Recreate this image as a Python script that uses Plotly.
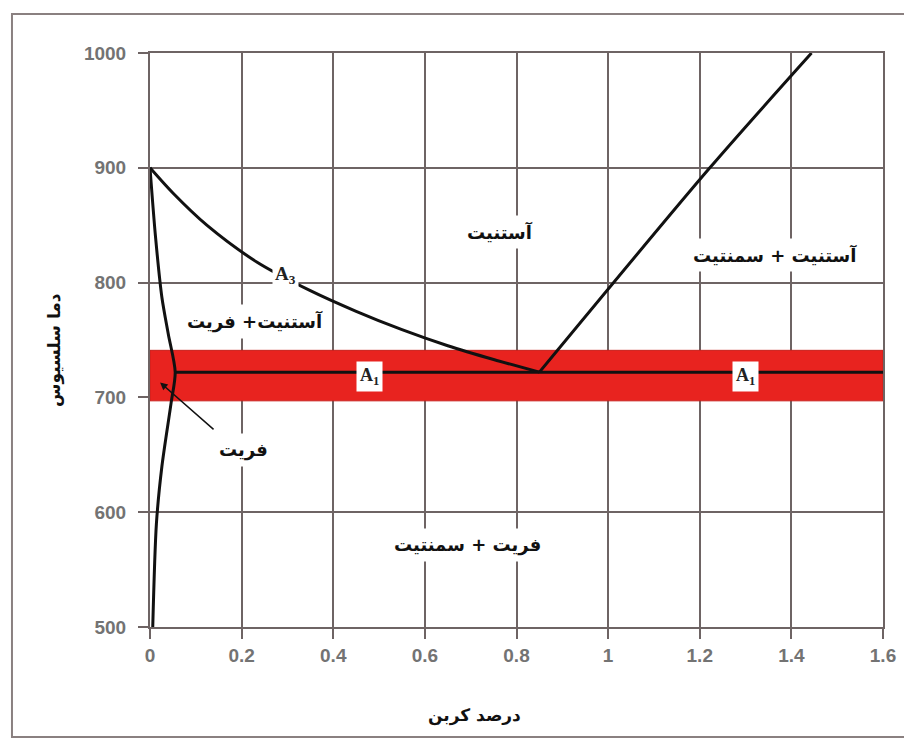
import plotly.graph_objects as go

# ---- data ----
a3_x = [0, 0.05, 0.124, 0.233, 0.35, 0.45, 0.55, 0.65, 0.75, 0.85]
a3_t = [900, 878, 850, 818, 793, 775, 759, 745, 733, 722]

acm_x = [0.85, 1.222, 1.444]
acm_t = [722, 900, 1000]

a1_x = [0.055, 1.6]
a1_t = [722, 722]

ferrite_x = [0, 0.012, 0.026, 0.04, 0.055, 0.046, 0.026, 0.014, 0.006]
ferrite_t = [900, 840, 787, 755, 722, 695, 640, 590, 500]

band_x = [0, 1.6, 1.6, 0, 0]
band_t = [697, 697, 741, 741, 697]

x_ticks = [0, 0.2, 0.4, 0.6, 0.8, 1, 1.2, 1.4, 1.6]
x_tick_labels = ["0", "0.2", "0.4", "0.6", "0.8", "1", "1.2", "1.4", "1.6"]
y_ticks = [500, 600, 700, 800, 900, 1000]
y_tick_labels = ["500", "600", "700", "800", "900", "1000"]

region_labels = ["آستنیت", "آستنیت + سمنتیت", "آستنیت+ فریت", "فریت + سمنتیت"]
region_x = [0.764, 1.364, 0.229, 0.694]
region_t = [844, 824, 766, 571]

grid_col = "#6e6464"
fa_font = "DejaVu Sans"
tick_font = dict(family="Liberation Sans", size=19, color="#737373")

fig = go.Figure()
fig.add_trace(go.Scatter(x=band_x, y=band_t, fill="toself", fillcolor="#e8231f",
                         mode="lines", line=dict(color="#c8201c", width=1),
                         hoverinfo="skip", showlegend=False))
for xs, ts in [(a3_x, a3_t), (acm_x, acm_t), (a1_x, a1_t), (ferrite_x, ferrite_t)]:
    fig.add_trace(go.Scatter(x=xs, y=ts, mode="lines",
                             line=dict(color="#111111", width=3, shape="spline", smoothing=0.8),
                             showlegend=False))

ann = []
for txt, xx, tt in zip(region_labels, region_x, region_t):
    ann.append(dict(x=xx, y=tt, text="<b>" + txt + "</b>", showarrow=False,
                    bgcolor="white", borderpad=5, xanchor="center", yanchor="middle",
                    font=dict(family=fa_font, size=18, color="#111")))
# A labels
ann.append(dict(x=0.295, y=807, text="<b>A<sub>3</sub></b>", showarrow=False, bgcolor="white",
                borderpad=2, xanchor="center", yanchor="middle",
                font=dict(family="Liberation Serif", size=19, color="#222")))
for xx in [0.48, 1.3]:
    ann.append(dict(x=xx, y=718, text="<b>A<sub>1</sub></b>", showarrow=False, bgcolor="white",
                    borderpad=3, xanchor="center", yanchor="middle",
                    font=dict(family="Liberation Serif", size=18, color="#222")))
# ferrite label with arrow
ann.append(dict(x=0.022, y=713, ax=0.142, ay=671, axref="x", ayref="y",
                text="", showarrow=True, arrowhead=2, arrowsize=1, arrowwidth=1.5,
                arrowcolor="#111"))
ann.append(dict(x=0.203, y=654, text="<b>فریت</b>", showarrow=False, bgcolor="white",
                borderpad=5, xanchor="center", yanchor="middle",
                font=dict(family=fa_font, size=18, color="#111")))
# axis titles
ann.append(dict(xref="paper", yref="paper", x=-0.1296, y=0.4826, text="<b>دما سلسیوس</b>",
                textangle=-90, showarrow=False, xanchor="center", yanchor="middle",
                font=dict(family=fa_font, size=17, color="#111")))
ann.append(dict(xref="paper", yref="paper", x=0.443, y=-0.155, text="<b>درصد کربن</b>",
                showarrow=False, xanchor="center", yanchor="middle",
                font=dict(family=fa_font, size=17, color="#111")))

fig.update_layout(
    width=912, height=742,
    margin=dict(l=142, r=37, t=45, b=123),
    paper_bgcolor="white", plot_bgcolor="white",
    annotations=ann,
    shapes=[dict(type="rect", xref="paper", yref="paper",
                 x0=-0.1883, x1=1.0341, y0=-0.1916, y1=1.0679,
                 line=dict(color="#8a8080", width=2), layer="below")],
    xaxis=dict(range=[0, 1.6], tickvals=x_ticks,
               ticktext=["<b>" + t + "</b>" for t in x_tick_labels],
               showgrid=True, gridcolor=grid_col, gridwidth=2, zeroline=False,
               showline=True, linecolor=grid_col, linewidth=2, mirror=True,
               ticks="outside", ticklen=10, tickwidth=2, tickcolor=grid_col,
               tickfont=tick_font),
    yaxis=dict(range=[500, 1000], tickvals=y_ticks,
               ticktext=["<b>" + t + "</b>" for t in y_tick_labels],
               showgrid=True, gridcolor=grid_col, gridwidth=2, zeroline=False,
               showline=True, linecolor=grid_col, linewidth=2, mirror=True,
               ticks="outside", ticklen=10, tickwidth=2, tickcolor=grid_col,
               ticklabelstandoff=8, tickfont=tick_font),
)

fig.write_html("out.html")
